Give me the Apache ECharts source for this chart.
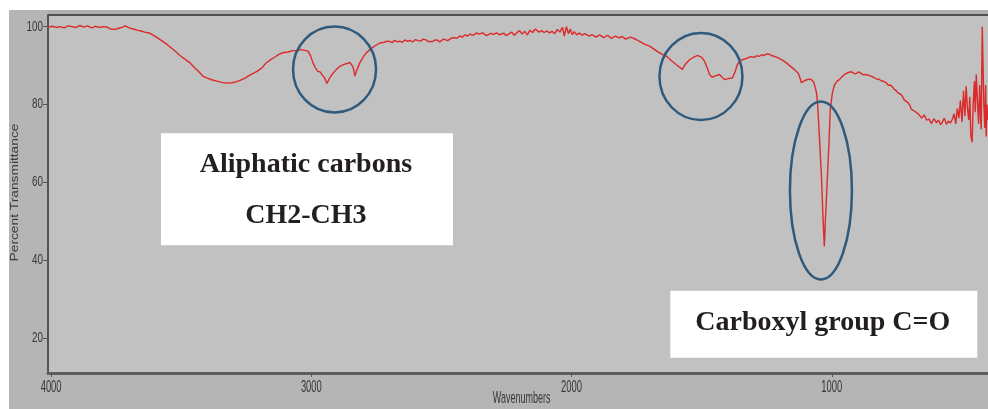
<!DOCTYPE html>
<html><head><meta charset="utf-8">
<script src="https://cdn.jsdelivr.net/npm/echarts@6/dist/echarts.min.js"></script>
<style>
html,body{margin:0;padding:0;background:#fff}
#c{width:988px;height:409px;background:linear-gradient(#b5b5b5,#b5b5b5) 9px 10px/979px 399px no-repeat,#fff}
</style>
</head><body><div id="c"></div>
<script>
// Spectrum: [wavenumber (cm-1), percent transmittance]
const spectrum = [
[4010,99.9],[3995,100.1],[3980,99.8],[3965,100.0],[3950,99.7],[3935,100.2],[3920,100.0],[3905,99.8],
[3890,100.3],[3875,99.9],[3860,100.2],[3845,99.7],[3830,100.1],[3815,99.8],[3800,100.0],[3785,99.9],
[3770,99.4],[3755,99.3],[3740,99.6],[3725,99.9],[3715,100.2],[3700,99.7],[3685,99.4],[3670,99.1],
[3655,98.9],[3640,98.6],[3620,98.3],[3600,97.5],[3580,96.6],[3560,95.7],[3545,94.9],[3525,93.8],
[3505,92.6],[3485,91.6],[3466,90.7],[3450,89.5],[3435,88.6],[3417,87.3],[3400,86.8],[3380,86.3],
[3363,86.0],[3345,85.7],[3325,85.5],[3305,85.6],[3290,85.8],[3274,86.2],[3255,86.8],[3235,87.6],
[3209,88.5],[3190,89.4],[3175,90.6],[3159,91.4],[3140,92.2],[3125,92.9],[3109,93.3],[3090,93.5],
[3075,93.8],[3056,93.9],[3040,94.1],[3025,93.9],[3013,93.7],[3003,92.5],[2994,90.7],[2985,89.5],
[2975,88.5],[2967,88.4],[2960,88.1],[2950,86.9],[2940,85.4],[2930,86.8],[2921,87.7],[2905,88.9],
[2891,89.8],[2875,90.3],[2860,90.6],[2852,90.8],[2846,90.3],[2841,89.8],[2836,88.6],[2833,87.3],
[2825,88.9],[2814,90.7],[2800,92.3],[2790,93.2],[2775,94.1],[2755,95.1],[2737,95.8],[2720,96.0],
[2710,96.3],[2699,96.2],[2690,95.9],[2680,96.5],[2670,96.1],[2660,96.3],[2650,96.0],[2640,96.6],
[2630,96.2],[2622,96.5],[2610,96.1],[2600,96.7],[2590,96.4],[2580,96.3],[2570,96.8],[2560,96.6],
[2552,96.2],[2545,96.1],[2534,96.2],[2525,96.6],[2515,96.5],[2507,96.1],[2500,96.3],[2492,96.8],
[2485,96.7],[2476,96.4],[2468,96.8],[2459,97.1],[2450,97.2],[2440,97.0],[2430,97.6],[2420,97.3],
[2410,97.9],[2400,97.6],[2390,98.1],[2378,97.8],[2365,98.4],[2357,98.1],[2350,97.9],[2342,98.4],
[2335,98.2],[2327,97.7],[2320,97.8],[2310,98.3],[2300,98.0],[2288,98.4],[2276,97.9],[2268,98.2],
[2260,98.3],[2252,97.7],[2245,98.0],[2230,98.6],[2220,97.8],[2211,98.4],[2200,99.0],[2190,98.1],
[2180,98.8],[2170,97.9],[2160,99.1],[2150,98.5],[2140,99.4],[2134,99.2],[2125,98.6],[2115,99.0],
[2105,98.5],[2095,98.9],[2085,98.4],[2075,98.8],[2065,98.2],[2055,99.3],[2045,98.6],[2035,99.8],
[2028,97.6],[2020,100.0],[2012,98.2],[2005,99.4],[1998,98.0],[1990,98.7],[1980,97.9],[1970,98.4],
[1960,97.8],[1950,98.2],[1942,97.9],[1930,97.6],[1922,98.0],[1915,97.9],[1907,97.3],[1900,97.5],
[1892,97.9],[1885,97.8],[1877,97.2],[1870,97.4],[1862,97.8],[1855,97.6],[1847,97.0],[1840,97.3],
[1832,97.6],[1825,97.4],[1816,97.1],[1808,97.5],[1800,97.2],[1792,96.8],[1785,96.9],[1775,97.3],
[1766,97.1],[1752,96.7],[1739,96.2],[1720,95.5],[1700,95.0],[1689,94.5],[1670,93.6],[1650,92.8],
[1635,92.4],[1615,91.2],[1595,90.1],[1585,89.6],[1574,89.0],[1565,90.2],[1555,90.9],[1547,91.5],
[1530,92.2],[1516,92.6],[1500,92.1],[1489,91.1],[1480,89.6],[1470,87.7],[1460,87.0],[1450,87.3],
[1443,86.8],[1432,87.7],[1420,86.9],[1412,86.4],[1405,86.2],[1395,86.7],[1382,86.8],[1372,88.4],
[1363,90.3],[1355,91.0],[1344,91.5],[1325,91.9],[1312,92.3],[1300,92.1],[1290,92.5],[1278,92.4],
[1268,92.8],[1260,92.6],[1250,93.0],[1240,92.9],[1232,92.6],[1228,92.8],[1210,92.1],[1190,91.4],
[1175,90.7],[1155,89.6],[1136,88.5],[1128,87.9],[1120,86.3],[1117,85.6],[1105,86.1],[1090,86.5],
[1079,86.4],[1070,85.8],[1063,84.2],[1059,83.0],[1055,80.5],[1048,72.0],[1040,61.5],[1034,51.0],
[1029,43.5],[1025,50.0],[1017,61.5],[1011,70.3],[1006,78.7],[998,83.0],[990,85.0],[980,86.0],
[971,86.4],[962,87.1],[955,87.4],[947,87.9],[940,88.0],[930,88.4],[921,88.3],[913,87.9],
[905,88.0],[897,88.4],[890,88.2],[879,87.6],[868,87.7],[858,87.5],[850,87.3],[840,87.0],
[830,86.6],[820,86.5],[810,86.1],[800,85.9],[791,85.6],[783,84.9],[775,85.0],[767,84.5],
[760,83.9],[752,83.5],[745,82.9],[737,82.7],[729,82.1],[722,81.2],[715,80.8],[707,80.5],
[700,79.8],[695,78.8],[690,78.9],[676,78.0],[665,77.4],[655,76.5],[645,77.3],[636,76.0],
[626,76.2],[617,75.1],[608,76.4],[598,75.3],[590,76.0],[582,74.8],[576,75.4],[568,76.5],
[560,74.9],[552,75.8],[545,75.2],[537,76.2],[530,77.6],[524,75.0],[518,79.0],[512,76.5],
[506,81.0],[500,75.5],[494,83.5],[489,77.0],[484,84.7],[479,79.0],[474,76.0],[470,82.0],
[466,72.0],[461,70.3],[457,80.0],[452,86.0],[449,78.0],[445,87.7],[440,80.0],[436,75.0],
[432,85.0],[428,76.0],[426,73.6],[424,88.0],[422,100.0],[419,90.0],[416,80.0],[412,74.0],
[409,85.0],[407,71.8],[404,80.0],[401,76.0]
];
const xTicks = [4000, 3000, 2000, 1000];
const xTickLabels = ['4000', '3000', '2000', '1000'];
const yTicks = [20, 40, 60, 80, 100];
const yTickLabels = ['20', '40', '60', '80', '100'];
const xTitle = 'Wavenumbers';
const yTitle = 'Percent Transmittance';
// Highlight ellipses, centred on data coordinates [wavenumber, %T]
const highlightCenters = [[2911, 89.0], [1503, 87.2], [1042, 57.9]];
const highlightRadii = [[41.5, 43], [41.5, 43.5], [31, 89]];
// Annotation boxes, centred on data coordinates
const boxCenters = [[3017, 58.2], [1031, 23.5]];
const boxLines = [['Aliphatic carbons', 'CH2-CH3'], ['Carboxyl group C=O']];

const X_MIN = 400, X_MAX = 4012, Y_MIN = 11, Y_MAX = 103;
const chart = echarts.init(document.getElementById('c'), null, {renderer: 'canvas'});
chart.setOption({
  animation: false,
  backgroundColor: 'transparent',
  grid: {left: 48, right: 0, top: 15, bottom: 36, show: true, backgroundColor: '#c1c1c1', borderWidth: 0},
  xAxis: {
    type: 'value', inverse: true, min: X_MIN, max: X_MAX,
    axisLine: {show: true, onZero: false, lineStyle: {color: '#5e5e5e', width: 3}},
    axisTick: {show: true, customValues: xTicks, length: 4, lineStyle: {color: '#555', width: 1}},
    axisLabel: {show: false}, splitLine: {show: false}
  },
  yAxis: {
    type: 'value', min: Y_MIN, max: Y_MAX,
    axisLine: {show: true, onZero: false, lineStyle: {color: '#555', width: 2}},
    axisTick: {show: true, customValues: yTicks, length: 5, lineStyle: {color: '#555', width: 1}},
    axisLabel: {show: false}, splitLine: {show: false}
  },
  series: [{
    type: 'line', data: spectrum, showSymbol: false, symbol: 'none',
    lineStyle: {color: '#dc2a2a', width: 1.4}, clip: true
  }]
});

const px = (p) => chart.convertToPixel({gridIndex: 0}, p);
const g = [];
const topLeft = px([X_MAX, Y_MAX]);
g.push({type: 'rect', shape: {x: topLeft[0], y: 10, width: 988 - topLeft[0], height: topLeft[1] - 10}, style: {fill: '#b0b0b0'}, z: 5});
g.push({type: 'line', shape: {x1: topLeft[0], y1: topLeft[1], x2: 988, y2: topLeft[1]}, style: {stroke: '#505050', lineWidth: 2}, z: 6});

const labelFont = 'Liberation Sans';
xTicks.forEach((v, i) => {
  const p = px([v, Y_MIN]);
  g.push({type: 'text', x: p[0], y: p[1] + 14, scaleX: 0.82, scaleY: 1.45,
    style: {text: xTickLabels[i], fontFamily: labelFont, fontSize: 11.5, fill: '#383838', align: 'center', verticalAlign: 'middle'}, z: 10});
});
yTicks.forEach((v, i) => {
  const p = px([X_MAX, v]);
  g.push({type: 'text', x: p[0] - 5, y: p[1], scaleX: 0.82, scaleY: 1.2,
    style: {text: yTickLabels[i], fontFamily: labelFont, fontSize: 12, fill: '#383838', align: 'right', verticalAlign: 'middle'}, z: 10});
});
g.push({type: 'text', x: 521.7, y: 399, scaleX: 0.82, scaleY: 1.45,
  style: {text: xTitle, fontFamily: labelFont, fontSize: 11, fill: '#383838', align: 'center', verticalAlign: 'middle'}, z: 10});
g.push({type: 'text', x: 14.5, y: 192.5, rotation: Math.PI / 2, scaleX: 1.25, scaleY: 1,
  style: {text: yTitle, fontFamily: labelFont, fontSize: 11, fill: '#3a3a3a', align: 'center', verticalAlign: 'middle'}, z: 10});

highlightCenters.forEach((c, i) => {
  const p = px(c);
  g.push({type: 'ellipse', shape: {cx: p[0], cy: p[1], rx: highlightRadii[i][0], ry: highlightRadii[i][1]},
    style: {fill: 'none', stroke: '#2f5a7c', lineWidth: 2.5}, z: 20});
});

const boxSizes = [[292, 112], [307, 67]];
const lineOffsets = [[-25, 26.7], [-2]];
boxCenters.forEach((c, i) => {
  const p = px(c);
  const w = boxSizes[i][0], h = boxSizes[i][1];
  g.push({type: 'rect', shape: {x: p[0] - w / 2, y: p[1] - h / 2, width: w, height: h}, style: {fill: '#ffffff'}, z: 30});
  boxLines[i].forEach((t, j) => {
    g.push({type: 'text', x: p[0] - 1, y: p[1] + lineOffsets[i][j],
      style: {text: t, fontFamily: 'Liberation Serif', fontWeight: 'bold', fontSize: 28, fill: '#231f20', align: 'center', verticalAlign: 'middle'}, z: 31});
  });
});
chart.setOption({graphic: g});
</script>
</body></html>
